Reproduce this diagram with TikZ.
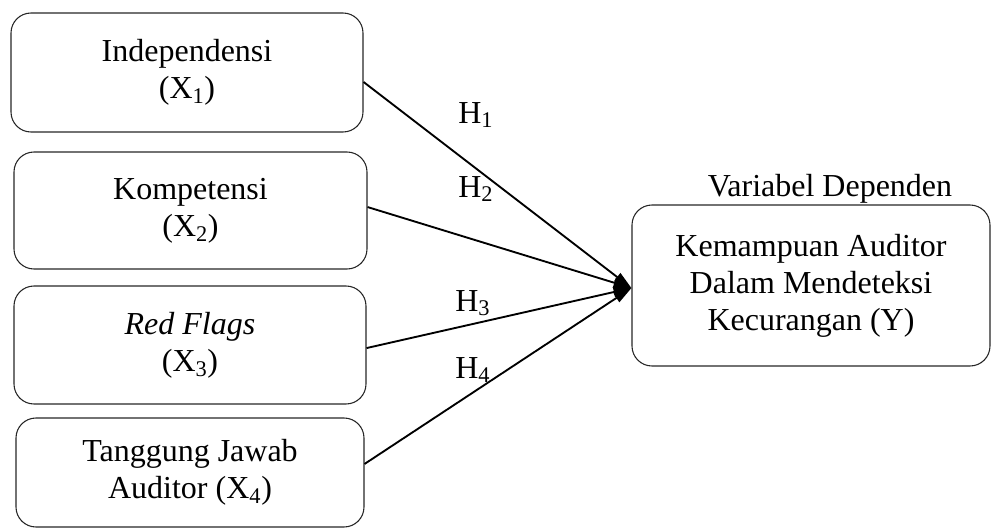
\documentclass[tikz,border=0pt]{standalone}
\usepackage{fontspec}
\setmainfont{Liberation Serif}
\usetikzlibrary{arrows.meta}
\tikzset{
  boxnode/.style={draw=black!85, line width=0.8pt, rounded corners=15pt, align=center,
    font=\fontsize{24pt}{27.75pt}\selectfont, inner sep=0pt},
  lbl/.style={font=\fontsize{24pt}{27.75pt}\selectfont, inner sep=0pt},
  conn/.style={line width=1.4pt, -{Triangle[length=13.5pt,width=7.5pt]}}
}
\begin{document}
\begin{tikzpicture}[x=0.75pt,y=-0.75pt]
\useasboundingbox (0,0) rectangle (992,529);
\node[boxnode, minimum width=264pt, minimum height=89.25pt] (x1) at (187,72.5) {Independensi\\(X\textsubscript{1})};
\node[boxnode, minimum width=264.75pt, minimum height=87.75pt] (x2) at (190.5,210.5) {Kompetensi\\(X\textsubscript{2})};
\node[boxnode, minimum width=264pt, minimum height=88.5pt] (x3) at (190,345) {\textit{Red Flags}\\(X\textsubscript{3})};
\node[boxnode, minimum width=261pt, minimum height=81.75pt] (x4) at (190,472.5) {Tanggung Jawab\\Auditor (X\textsubscript{4})};
\node[boxnode, minimum width=268.5pt, minimum height=120.75pt] (y) at (811,285.5) {Kemampuan Auditor\\Dalam Mendeteksi\\Kecurangan (Y)};
\node[lbl, anchor=base] (vd) at (830,196) {Variabel Dependen};
\node[lbl, anchor=base west] (h1) at (458,123) {H\textsubscript{1}};
\node[lbl, anchor=base west] (h2) at (458,197) {H\textsubscript{2}};
\node[lbl, anchor=base west] (h3) at (455,311) {H\textsubscript{3}};
\node[lbl, anchor=base west] (h4) at (455,378) {H\textsubscript{4}};
\coordinate (tip) at ([yshift=-1.9pt]y.west);
\draw[conn] ([yshift=-7.1pt]x1.east) -- (tip);
\draw[conn] ([yshift=2.6pt]x2.east) -- (tip);
\draw[conn] ([yshift=-2.3pt]x3.east) -- (tip);
\draw[conn] ([yshift=6.4pt]x4.east) -- (tip);
\end{tikzpicture}
\end{document}
